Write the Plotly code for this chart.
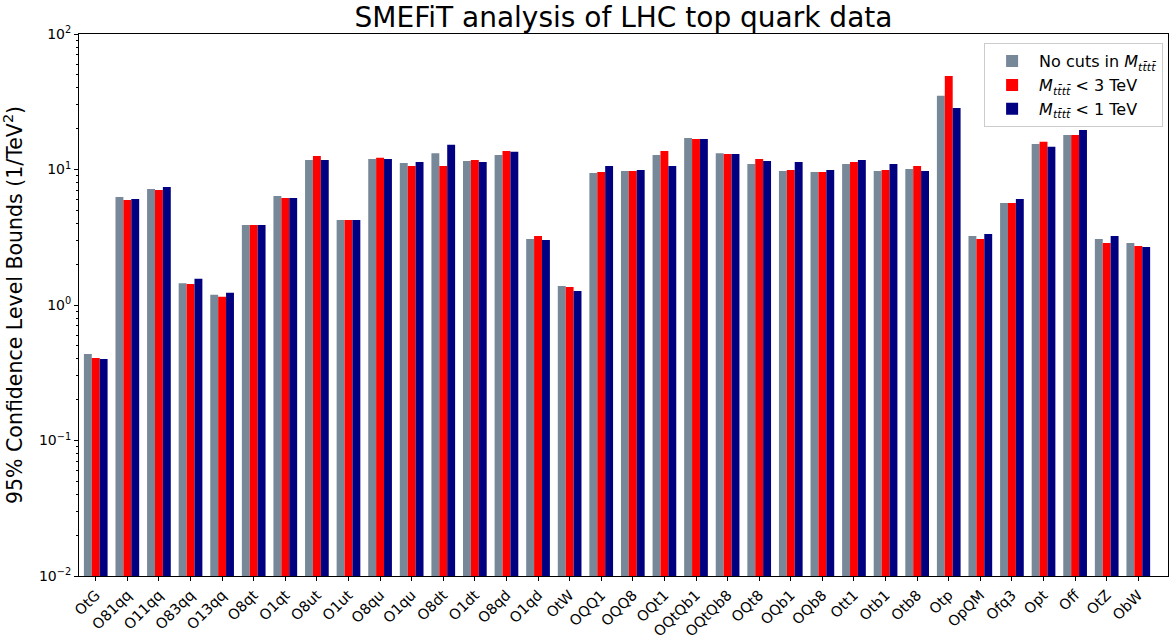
import plotly.graph_objects as go

operators = ["OtG", "O81qq", "O11qq", "O83qq", "O13qq", "O8qt", "O1qt", "O8ut", "O1ut",
             "O8qu", "O1qu", "O8dt", "O1dt", "O8qd", "O1qd", "OtW", "OQQ1", "OQQ8", "OQt1",
             "OQtQb1", "OQtQb8", "OQt8", "OQb1", "OQb8", "Ott1", "Otb1", "Otb8", "Otp",
             "OpQM", "Ofq3", "Opt", "Off", "OtZ", "ObW"]

no_cuts = [0.435, 6.27, 7.18, 1.45, 1.19, 3.89, 6.37, 11.75, 4.24,
           11.95, 11.17, 13.2, 11.55, 12.8, 3.07, 1.38, 9.42, 9.75, 12.8,
           17.1, 13.2, 10.98, 9.75, 9.59, 10.98, 9.75, 10.1, 35.0,
           3.23, 5.66, 15.4, 18.0, 3.07, 2.87]

cut_3tev = [0.406, 5.96, 7.06, 1.43, 1.15, 3.89, 6.16, 12.6, 4.24,
            12.2, 10.6, 10.6, 11.75, 13.7, 3.23, 1.36, 9.59, 9.75, 13.7,
            16.8, 13.0, 11.95, 9.92, 9.59, 11.36, 9.92, 10.6, 49.0,
            3.07, 5.66, 16.0, 18.0, 2.87, 2.73]

cut_1tev = [0.40, 6.06, 7.43, 1.56, 1.23, 3.89, 6.16, 11.75, 4.24,
            11.95, 11.36, 15.2, 11.36, 13.5, 3.02, 1.27, 10.6, 9.92, 10.6,
            16.8, 13.0, 11.55, 11.36, 9.92, 11.75, 10.98, 9.75, 28.4,
            3.34, 6.06, 14.7, 19.6, 3.23, 2.68]

series_names = [
    "No cuts in <i>M</i><sub><i>tt̄tt̄</i></sub>",
    "<i>M</i><sub><i>tt̄tt̄</i></sub> &lt; 3 TeV",
    "<i>M</i><sub><i>tt̄tt̄</i></sub> &lt; 1 TeV",
]
series_colors = ["#778899", "#ff0000", "#000080"]
series_values = [no_cuts, cut_3tev, cut_1tev]

x_idx = list(range(len(operators)))

fig = go.Figure()
for name, color, vals in zip(series_names, series_colors, series_values):
    fig.add_trace(go.Bar(x=x_idx, y=vals, name=name, marker=dict(color=color, line=dict(width=0))))

major_vals = [1e-2, 1e-1, 1e0, 1e1, 1e2]
major_text = ["10<sup>−2</sup>", "10<sup>−1</sup>", "10<sup>0</sup>", "10<sup>1</sup>", "10<sup>2</sup>"]
minor_vals = [k * 10 ** e for e in range(-2, 2) for k in range(2, 10)]

font_family = "DejaVu Sans"

fig.update_layout(
    width=1174, height=639,
    margin=dict(l=79, r=6, t=34, b=63, autoexpand=False),
    paper_bgcolor="white", plot_bgcolor="white",
    barmode="group", bargap=0.25, bargroupgap=0,
    font=dict(family=font_family, color="black"),
    title=dict(text="SMEFiT analysis of LHC top quark data", x=0.5, xref="paper",
               xanchor="center", y=1 - 17.5 / 639, yanchor="middle",
               font=dict(size=28, family=font_family, color="black")),
    legend=dict(x=0.9955, y=0.983, xanchor="right", yanchor="top",
                bgcolor="white", bordercolor="#cccccc", borderwidth=1,
                font=dict(size=16, family=font_family, color="black"),
                itemwidth=44, tracegroupgap=2),
    showlegend=True,
)

fig.update_xaxes(
    range=[-0.53, 33.94],
    tickmode="array", tickvals=x_idx, ticktext=operators,
    tickangle=-45, tickfont=dict(size=14.5, family=font_family, color="black"),
    ticks="outside", ticklen=4, tickcolor="black",
    showline=True, linecolor="black", linewidth=1, mirror=True,
    showgrid=False, zeroline=False,
)

fig.update_yaxes(
    type="log", range=[-2, 2],
    tickmode="array", tickvals=major_vals, ticktext=major_text,
    tickfont=dict(size=14, family=font_family, color="black"),
    ticks="outside", ticklen=4, tickcolor="black",
    minor=dict(tickmode="array", tickvals=minor_vals, ticks="outside", ticklen=2,
               tickcolor="black", showgrid=False),
    showline=True, linecolor="black", linewidth=1, mirror=True,
    showgrid=False, zeroline=False,
    title=dict(text="95% Confidence Level Bounds (1/TeV<sup>2</sup>)",
               font=dict(size=20.5, family=font_family, color="black"), standoff=14),
)

fig.write_html("out.html", config={"displayModeBar": False},
               post_script="document.body.style.margin='0';")
